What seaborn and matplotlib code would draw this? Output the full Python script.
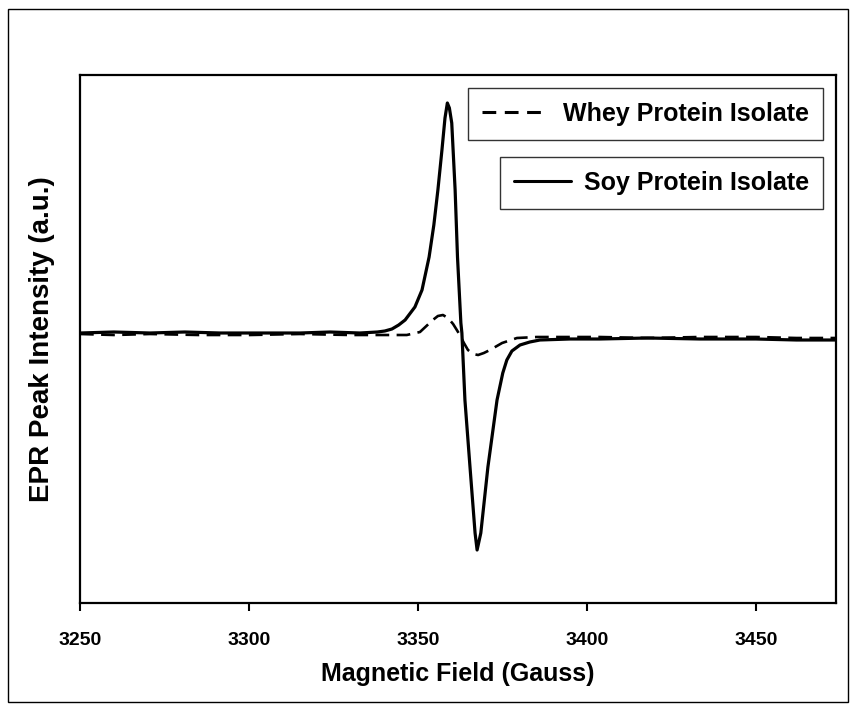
import numpy as np
import pandas as pd
import matplotlib
matplotlib.use("Agg")
import matplotlib.pyplot as plt
from matplotlib.patches import Rectangle
from matplotlib.lines import Line2D
import seaborn as sns

# ---- data ----
soy_field = [3250.0, 3260.0, 3270.7, 3281.0, 3291.4, 3303.0, 3315.1, 3324.0, 3332.8,
             3338.0, 3340.2, 3342.3, 3344.3, 3346.2, 3349.1, 3351.2, 3353.3, 3354.7, 3355.9, 3357.1,
             3358.0, 3358.7, 3359.3, 3360.0, 3361.0, 3361.7, 3362.7, 3363.0, 3363.9,
             3365.4, 3366.9, 3367.5, 3368.6, 3370.7, 3373.4, 3375.1, 3376.3, 3377.8,
             3380.2, 3383.1, 3386.1, 3395.0, 3403.8, 3418.0, 3433.4, 3450.0, 3462.0, 3474.0]
soy_signal = [0, 1, 0, 1, 0, 0, 0, 1, 0,
              1, 2, 4, 8, 13, 26, 43, 76, 108, 143, 183,
              215, 230, 225, 210, 143, 76, 10, 0, -67,
              -134, -200, -217, -200, -134, -67, -40, -27, -18,
              -12, -9, -7, -6, -6, -5, -6, -6, -7, -7]

whey_field = [3250.0, 3260.0, 3270.7, 3285.0, 3300.3, 3315.0, 3329.9, 3344.7, 3346.7,
              3350.6, 3354.4, 3355.9, 3357.4, 3358.9, 3360.4, 3361.5, 3362.4, 3363.6,
              3364.8, 3366.3, 3367.8, 3369.5, 3371.3, 3374.9, 3379.3, 3385.2, 3395.0,
              3403.8, 3418.0, 3433.4, 3450.0, 3462.0, 3474.0]
whey_signal = [-1, -2, -1, -2, -2, -1, -2, -2, -2,
               1, 13, 17, 18, 15, 9, 3, -2, -10,
               -17, -21, -22, -20, -17, -10, -5, -4, -4,
               -4, -5, -4, -4, -5, -5]

xticks = [3250, 3300, 3350, 3400, 3450]
labels = ["Whey Protein Isolate", "Soy Protein Isolate"]

# ---- figure ----
sns.set_style("white")
plt.rcParams['font.family'] = ['Liberation Sans', 'DejaVu Sans']
plt.rcParams['font.weight'] = 'bold'
plt.rcParams['text.color'] = 'black'
plt.rcParams['axes.labelcolor'] = 'black'
plt.rcParams['xtick.color'] = 'black'

W, H = 850, 704
fig = plt.figure(figsize=(W / 100, H / 100), dpi=100)
ax = fig.add_axes([80 / W, 1 - 603 / H, (836 - 80) / W, (603 - 75) / H])

whey_df = pd.DataFrame({"field": whey_field, "signal": whey_signal})
soy_df = pd.DataFrame({"field": soy_field, "signal": soy_signal})

sns.lineplot(data=whey_df, x="field", y="signal", ax=ax, color="black",
             linewidth=1.9, linestyle=(0, (5.2, 2.8)), sort=False, estimator=None)
sns.lineplot(data=soy_df, x="field", y="signal", ax=ax, color="black",
             linewidth=2.3, sort=False, estimator=None)

ax.set_xlim(3250, 3473.7)
ax.set_ylim(-270, 258)
ax.set_xticks(xticks)
ax.set_xticklabels([str(t) for t in xticks], fontsize=14, fontweight='bold', color='black')
ax.set_yticks([])
ax.tick_params(axis='x', direction='out', length=6, width=1.5, pad=15, bottom=True,
               colors='black')
for s in ax.spines.values():
    s.set_linewidth(1.6)
    s.set_color("black")

ax.set_xlabel("Magnetic Field (Gauss)", fontsize=18, fontweight='bold', labelpad=9,
              color='black')
ax.set_ylabel("EPR Peak Intensity (a.u.)", fontsize=20, fontweight='bold', labelpad=18,
              color='black')

# legends: two separate boxes
h_whey = Line2D([], [], color="black", linewidth=2.2, linestyle=(0, (4.5, 2.8)))
h_soy = Line2D([], [], color="black", linewidth=2.2)
leg1 = ax.legend([h_whey], [labels[0]], loc="upper right",
                 bbox_to_anchor=((823 - 80) / 756, (603 - 88) / 528),
                 borderaxespad=0, frameon=True, fancybox=False, edgecolor="black",
                 handlelength=2.4, handletextpad=0.85, borderpad=0.56,
                 prop={'weight': 'bold', 'size': 18})
leg1.get_frame().set_linewidth(1.0)
ax.add_artist(leg1)
leg2 = ax.legend([h_soy], [labels[1]], loc="upper right",
                 bbox_to_anchor=((823 - 80) / 756, (603 - 157) / 528),
                 borderaxespad=0, frameon=True, fancybox=False, edgecolor="black",
                 handlelength=2.3, handletextpad=0.5, borderpad=0.56,
                 prop={'weight': 'bold', 'size': 18})
leg2.get_frame().set_linewidth(1.0)

# outer frame around the figure
fig.patches.append(Rectangle((8 / W, 1 - 702 / H), (848 - 8) / W, (702 - 9) / H,
                             transform=fig.transFigure, fill=False,
                             edgecolor="black", linewidth=1.0))

fig.savefig("out.png", dpi=100)
